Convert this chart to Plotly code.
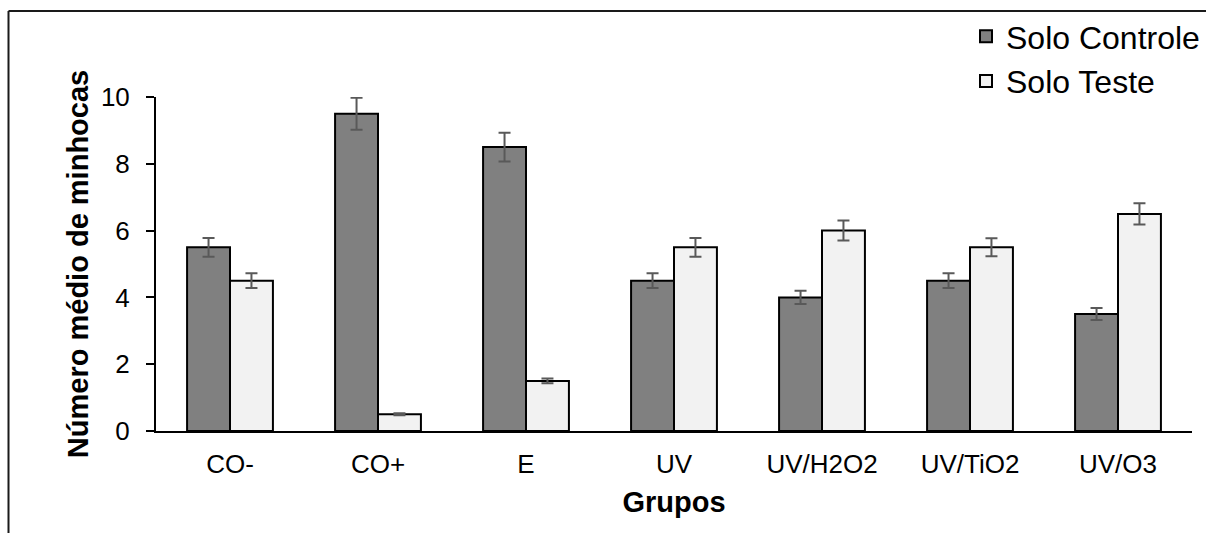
import plotly.graph_objects as go

# Groups and mean earthworm counts per soil
grupos = ["CO-", "CO+", "E", "UV", "UV/H2O2", "UV/TiO2", "UV/O3"]
solo_controle = [5.5, 9.5, 8.5, 4.5, 4.0, 4.5, 3.5]
solo_teste = [4.5, 0.5, 1.5, 5.5, 6.0, 5.5, 6.5]
erro_controle = [0.28, 0.48, 0.43, 0.22, 0.20, 0.22, 0.18]
erro_teste = [0.22, 0.03, 0.07, 0.28, 0.30, 0.27, 0.32]
y_ticks = [0, 2, 4, 6, 8, 10]

FONT = "Liberation Sans, Arial, sans-serif"
ERR_COLOR = "#595959"

fig = go.Figure()
fig.add_trace(go.Bar(
    name="Solo Controle", x=grupos, y=solo_controle,
    marker=dict(color="#808080", line=dict(color="#000000", width=2)),
    error_y=dict(type="data", array=erro_controle, color=ERR_COLOR, thickness=2, width=6),
    cliponaxis=False,
))
fig.add_trace(go.Bar(
    name="Solo Teste", x=grupos, y=solo_teste,
    marker=dict(color="#F2F2F2", line=dict(color="#000000", width=2)),
    error_y=dict(type="data", array=erro_teste, color=ERR_COLOR, thickness=2, width=6),
    cliponaxis=False,
))

L, R, T, B = 156, 14, 97, 102
W, H = 1206, 533
pw, ph = W - L - R, H - T - B

def px_x(p):
    return (p - L) / pw

def px_y(p):
    return (H - B - p) / ph

fig.update_layout(
    width=W, height=H,
    margin=dict(l=L, r=R, t=T, b=B, autoexpand=False),
    paper_bgcolor="white", plot_bgcolor="white",
    font=dict(family=FONT, color="#000000", size=26),
    barmode="group", bargap=0.42, bargroupgap=0.0,
    showlegend=True,
    legend=dict(
        x=px_x(966), y=px_y(9), xanchor="left", yanchor="top",
        font=dict(size=32, family=FONT), itemwidth=30,
        bgcolor="rgba(0,0,0,0)", tracegroupgap=0,
    ),
    xaxis=dict(
        showline=True, linecolor="#000000", linewidth=2,
        ticks="", showgrid=False, zeroline=False,
        tickfont=dict(size=26), ticklabelstandoff=9,
        title=dict(text="<b>Grupos</b>", font=dict(size=29), standoff=13),
    ),
    yaxis=dict(
        range=[0, 10], tickvals=y_ticks,
        showline=True, linecolor="#000000", linewidth=2,
        ticks="outside", ticklen=8, tickwidth=2, tickcolor="#000000",
        showgrid=False, zeroline=False,
        tickfont=dict(size=26), ticklabelstandoff=11,
        title=dict(text="<b>Número médio de minhocas</b>", font=dict(size=29), standoff=4),
    ),
    shapes=[
        dict(type="line", xref="paper", yref="paper",
             x0=px_x(8.5), x1=px_x(1230), y0=px_y(11), y1=px_y(11),
             line=dict(color="#1a1a1a", width=2)),
        dict(type="line", xref="paper", yref="paper",
             x0=px_x(8.5), x1=px_x(8.5), y0=px_y(11), y1=px_y(560),
             line=dict(color="#1a1a1a", width=2)),
    ],
)

fig.write_html("out.html")
